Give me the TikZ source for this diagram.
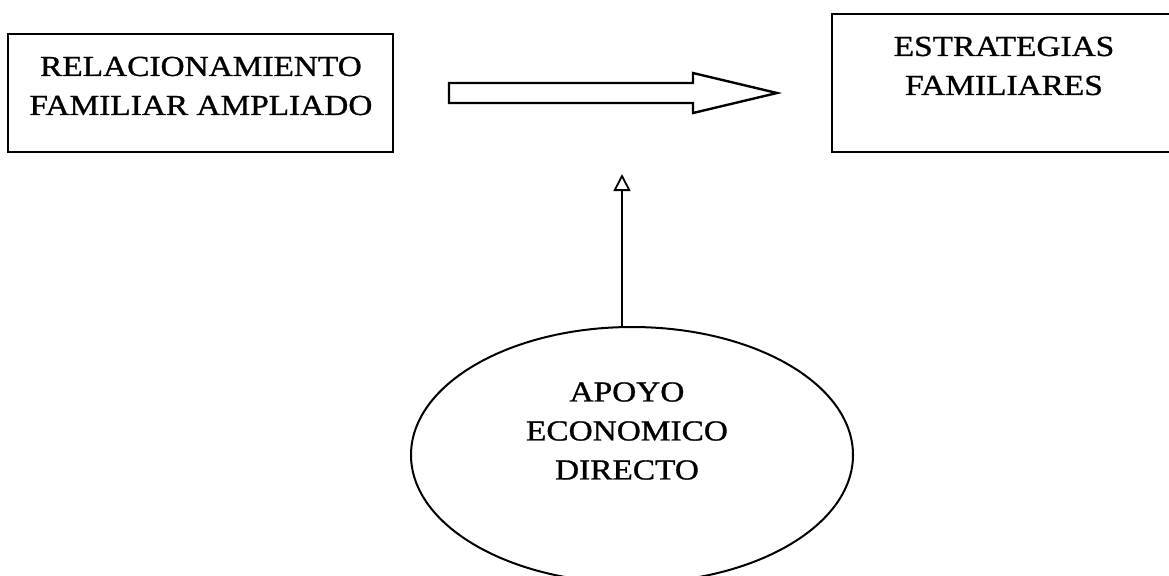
\documentclass[tikz,border=0pt]{standalone}
\usepackage{fontspec}
\setmainfont{Liberation Serif}[FakeStretch=1.15,FakeBold=1]
\usetikzlibrary{shapes.geometric,arrows.meta,calc}

\begin{document}
\begin{tikzpicture}[x=0.5pt,y=-0.5pt,
        caja/.style={draw,line width=1.2pt,inner sep=0pt,outer sep=0pt},
        texto/.style={align=center,inner sep=0pt,font=\fontsize{14.5}{19.5}\selectfont}]
        %\draw[very thin,color=gray] (0,0) grid[step=50] (1169,575);
        \clip (0,0) rectangle (1169,575);
        \node[caja,minimum width=192.5pt,minimum height=59pt] (rel) at (200.5,93) {};
        \node[texto] (reltxt) at (201,86) {RELACIONAMIENTO\\FAMILIAR AMPLIADO};
        \node[caja,minimum width=172pt,minimum height=69pt] (est) at (1004,83) {};
        \node[texto] (esttxt) at (1004,66) {ESTRATEGIAS\\FAMILIARES};
        \node[caja,ellipse,line width=1pt,minimum width=221pt,minimum height=128pt] (apoyo) at (632,455) {};
        \node[texto] (apoyotxt) at (627,431) {APOYO\\ECONOMICO\\DIRECTO};
        % flecha gruesa
        \coordinate (cola) at ($(rel.east)+(56,0)$);
        \coordinate (tip) at ($(est.west)+(-55,10)$);
        \draw[line width=1.2pt,line join=miter] ($(cola)+(0,-10)$) -- ($(tip)+(-84,-10)$) -- ($(tip)+(-84,-20)$)
            -- (tip) -- ($(tip)+(-84,20)$) -- ($(tip)+(-84,10)$) -- ($(cola)+(0,10)$) -- cycle;
        % flecha delgada
        \coordinate (arriba) at (622,174);
        \draw[line width=0.9pt,-{Triangle[open,width=8.5pt,length=8.5pt]}] (apoyo.north -| arriba) -- (arriba);
    \end{tikzpicture}
\end{document}
